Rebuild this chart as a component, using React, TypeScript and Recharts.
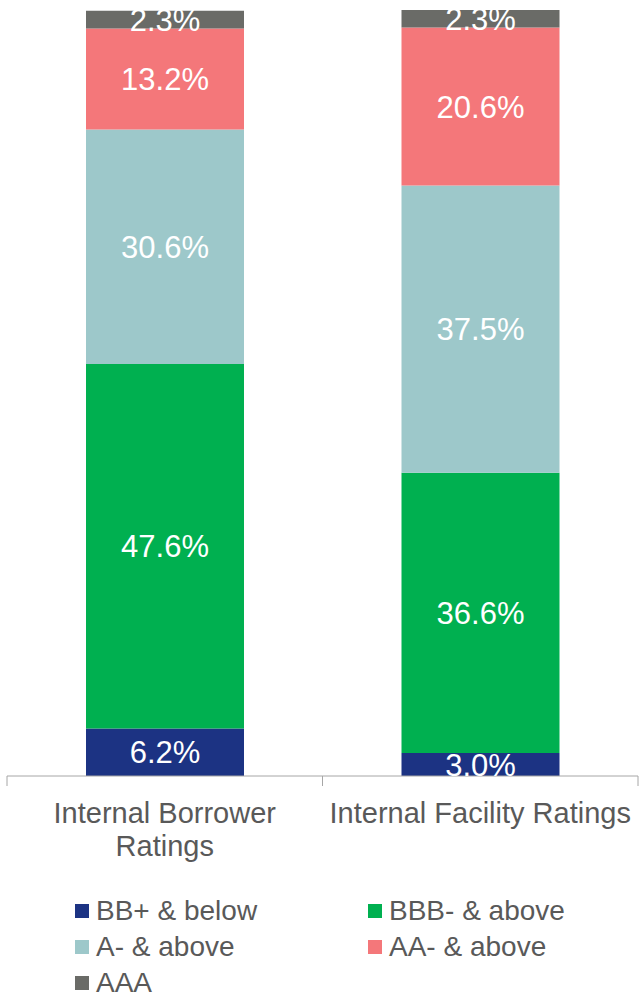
import React from 'react';
import { BarChart, Bar, XAxis, YAxis, Legend, LabelList } from 'recharts';

const categories = ['Internal Borrower Ratings', 'Internal Facility Ratings'];
const seriesNames = ['BB+ & below', 'BBB- & above', 'A- & above', 'AA- & above', 'AAA'];
const bbBelow = [6.2, 3.0];
const bbbAbove = [47.6, 36.6];
const aAbove = [30.6, 37.5];
const aaAbove = [13.2, 20.6];
const aaa = [2.3, 2.3];

const colors = ['#1C3383', '#00B050', '#9DC8CA', '#F4777A', '#6A6B67'];
const keys = ['bb', 'bbb', 'a', 'aa', 'aaa'];
const FONT = '"Liberation Sans", Arial, sans-serif';
const TICK_FONT = `29px ${FONT}`;

const data = categories.map((name, i) => ({
  name,
  bb: bbBelow[i],
  bbb: bbbAbove[i],
  a: aAbove[i],
  aa: aaAbove[i],
  aaa: aaa[i],
}));

let ctx: CanvasRenderingContext2D | null = null;
const measure = (s: string) => {
  if (!ctx) ctx = document.createElement('canvas').getContext('2d');
  if (!ctx) return s.length * 14;
  ctx.font = TICK_FONT;
  return ctx.measureText(s).width;
};

// greedy word wrap
const wrap = (s: string, maxW: number) => {
  const lines: string[] = [];
  let cur = '';
  s.split(' ').forEach((w) => {
    const t = cur ? cur + ' ' + w : w;
    if (cur && measure(t) > maxW) {
      lines.push(cur);
      cur = w;
    } else cur = t;
  });
  if (cur) lines.push(cur);
  return lines;
};

// category label plus tick marks on the category boundaries (Excel style)
const CatTick = (props: any) => {
  const { x, y, payload, width, visibleTicksCount } = props;
  const half = payload && payload.offset ? payload.offset : width / (2 * (visibleTicksCount || categories.length));
  const lines = wrap(String(payload.value), 310);
  return (
    <g>
      <line x1={x - half} x2={x - half} y1={y - 10} y2={y} stroke="#A6A6A6" />
      <line x1={x + half} x2={x + half} y1={y - 10} y2={y} stroke="#A6A6A6" />
      <text x={x} y={y + 37} textAnchor="middle" fill="#595959" fontSize={29} fontFamily={FONT}>
        {lines.map((l, i) => (
          <tspan key={i} x={x} dy={i === 0 ? 0 : 33}>
            {l}
          </tspan>
        ))}
      </text>
    </g>
  );
};

const LegendContent = () => (
  <div
    style={{
      display: 'grid',
      gridTemplateColumns: '293px 260px',
      paddingLeft: 75,
      fontFamily: FONT,
      fontSize: 28,
      color: '#595959',
      lineHeight: '36px',
    }}
  >
    {seriesNames.map((n, i) => (
      <div key={n} style={{ display: 'flex', alignItems: 'center', height: 36 }}>
        <span style={{ width: 14, height: 14, background: colors[i], marginRight: 7, display: 'inline-block' }} />
        <span>{n}</span>
      </div>
    ))}
  </div>
);

export default function App() {
  return (
    <div style={{ position: 'absolute', left: 0, top: 0 }}>
      <BarChart
        width={641}
        height={997}
        data={data}
        margin={{ top: 10, right: 3, left: 7, bottom: 10 }}
        barSize={158}
      >
        <XAxis
          dataKey="name"
          type="category"
          height={211}
          tickSize={10}
          tickMargin={0}
          tickLine={false}
          axisLine={{ stroke: '#A6A6A6' }}
          tick={<CatTick />}
          interval={0}
        />
        <YAxis hide domain={[0, 100]} />
        <Legend
          layout="horizontal"
          verticalAlign="middle"
          wrapperStyle={{ top: 893, left: 0, width: 641 }}
          content={<LegendContent />}
        />
        {keys.map((k, i) => (
          <Bar
            key={k}
            dataKey={k}
            name={seriesNames[i]}
            stackId="s"
            fill={colors[i]}
            isAnimationActive={false}
          >
            <LabelList
              dataKey={k}
              position="center"
              formatter={(v: any) => `${Number(v).toFixed(1)}%`}
              fill="#FFFFFF"
              fontSize={31}
              fontFamily={FONT}
            />
          </Bar>
        ))}
      </BarChart>
    </div>
  );
}
